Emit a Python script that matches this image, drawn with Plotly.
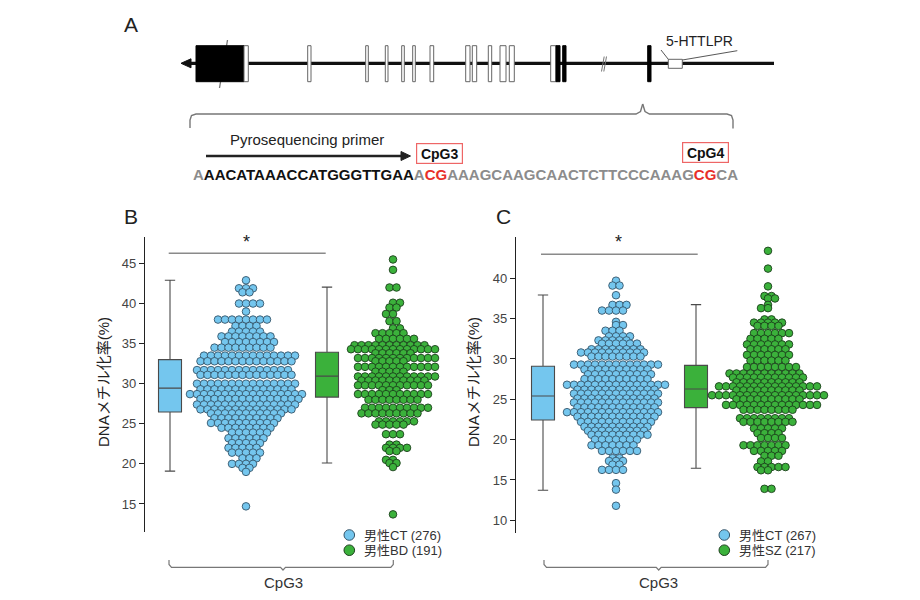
import numpy as np
import plotly.graph_objects as go

W, H = 920, 600

# ---------------- data ----------------
# Panel B : rows of the dot plot (value %, number of dots in the row)
b_ct_rows = [42.9, 41.9, 41.4, 40.0, 39.0, 38.0, 37.2, 36.5, 35.9, 35.2, 34.5, 33.5, 32.8,
             31.7, 31.1, 30.0, 29.3, 28.7, 28.1, 27.4, 26.8, 26.3, 25.7, 25.1, 24.5, 23.9,
             23.2, 22.6, 22.0, 21.4, 20.7, 20.0, 19.5, 19.0, 14.7]
b_ct_counts = [1, 3, 2, 4, 1, 8, 4, 5, 8, 8, 9, 14, 14,
               14, 14, 15, 14, 17, 15, 15, 14, 11, 10, 10, 8, 6,
               6, 5, 5, 5, 3, 4, 2, 1, 1]
b_bd_rows = [45.5, 44.2, 42.0, 40.1, 39.5, 38.7, 37.8, 36.9, 36.3, 35.6, 34.8, 34.3, 33.8,
             33.2, 32.8, 32.1, 31.5, 30.9, 30.4, 29.8, 29.2, 28.7, 28.0, 27.0, 26.3, 25.3,
             24.9, 23.7, 22.4, 22.0, 21.6, 20.5, 20.1, 19.6, 13.7]
b_bd_counts = [1, 1, 2, 2, 2, 2, 2, 2, 5, 6, 11, 13, 6,
               12, 5, 12, 5, 12, 10, 11, 3, 11, 8, 10, 9, 6,
               5, 3, 2, 4, 2, 2, 2, 1, 1]
# Panel C
c_ct_rows = [39.7, 39.1, 37.9, 36.7, 36.0, 34.6, 34.2, 33.5, 32.8, 32.3, 31.9, 31.2, 30.8,
             30.3, 29.3, 28.7, 28.1, 27.5, 26.8, 26.2, 25.7, 25.1, 24.6, 24.0, 23.4, 22.85,
             22.2, 21.6, 21.1, 20.6, 20.0, 19.3, 18.6, 17.7, 17.35, 16.9, 16.25, 14.6, 13.8, 11.8]
c_ct_counts = [1, 2, 1, 3, 4, 1, 2, 3, 4, 5, 6, 8, 10,
               8, 13, 10, 10, 10, 15, 12, 13, 12, 13, 12, 14, 12,
               11, 10, 9, 9, 7, 7, 6, 2, 3, 2, 4, 1, 1, 1]
c_sz_rows = [43.4, 41.2, 39.0, 37.8, 37.5, 36.7, 36.3, 34.9, 34.5, 34.1, 33.2, 32.5, 31.8,
             31.2, 30.5, 29.8, 29.0, 28.2, 27.7, 27.1, 26.6, 26.1, 25.5, 25.0, 24.3, 23.7,
             22.65, 22.2, 21.4, 20.8, 20.2, 19.3, 18.6, 18.0, 17.3, 16.6, 16.2, 13.9]
c_sz_counts = [1, 1, 1, 2, 2, 1, 2, 2, 5, 4, 6, 5, 7,
               6, 7, 6, 8, 11, 11, 10, 15, 10, 17, 10, 14, 8,
               8, 8, 5, 4, 4, 7, 5, 3, 2, 5, 2, 2]

# box statistics: lower whisker, Q1, median, Q3, upper whisker
b_ct_box = [19.1, 26.47, 29.45, 33.0, 42.9]
b_bd_box = [20.1, 28.33, 30.95, 33.93, 42.05]
c_ct_box = [13.73, 22.44, 25.4, 29.1, 37.93]
c_sz_box = [16.45, 23.97, 26.28, 29.2, 36.73]

legend_b = ["男性CT (276)", "男性BD (191)"]
legend_c = ["男性CT (267)", "男性SZ (217)"]

seq_parts = [("A", "gray"), ("AACATAAACCATGGGTTGAA", "black"), ("A", "gray"), ("CG", "red"),
             ("AAAGCAAGCAACTCTTCCCAAAG", "gray"), ("CG", "red"), ("CA", "gray")]

# ---------------- styles ----------------
BLUE = "#74C6EE"
BLUE_EDGE = "#35566B"
GREEN = "#3BB13B"
GREEN_EDGE = "#1C3F1C"
TXT = "#333333"
FONT = "Liberation Sans, Arial, Noto Sans CJK JP"
JFONT = "Liberation Sans, Noto Sans CJK JP"


def px(x):
    return x / W


def py(y):
    return 1 - y / H


def swarm(center, rows, counts, d=7.0):
    """Centre each row; consecutive rows are staggered by half a dot.
    The widest row and single dots keep their natural centred position."""
    kmax = int(np.argmax(counts))
    base = (counts[kmax] + 1) % 2
    xs, ys = [], []
    flip = 1
    for k, (v, n) in enumerate(zip(rows, counts)):
        offs = (np.arange(n) - (n - 1) / 2.0) * d
        natural = (n + 1) % 2  # 0: integer grid, 1: half grid
        phase = (base + abs(k - kmax)) % 2
        if n > 1 and natural != phase:
            offs = offs + flip * d / 2.0
            flip = -flip
        xs.extend(list(center + offs))
        ys.extend([v] * n)
    return xs, ys


fig = go.Figure()

panels = [
    dict(xa="x", ya="y", rows=[(b_ct_rows, b_ct_counts, 246.0, BLUE, BLUE_EDGE),
                               (b_bd_rows, b_bd_counts, 393.0, GREEN, GREEN_EDGE)],
         boxes=[(b_ct_box, 170.0, BLUE), (b_bd_box, 327.0, GREEN)]),
    dict(xa="x2", ya="y2", rows=[(c_ct_rows, c_ct_counts, 616.0, BLUE, BLUE_EDGE),
                                 (c_sz_rows, c_sz_counts, 768.0, GREEN, GREEN_EDGE)],
         boxes=[(c_ct_box, 543.0, BLUE), (c_sz_box, 696.0, GREEN)]),
]

for p in panels:
    for stats, xc, col in p["boxes"]:
        fig.add_trace(go.Box(
            x=[xc], lowerfence=[stats[0]], q1=[stats[1]], median=[stats[2]],
            q3=[stats[3]], upperfence=[stats[4]], width=23, whiskerwidth=0.45,
            fillcolor=col, line=dict(color="#4a4a4a", width=1.1), boxpoints=False,
            xaxis=p["xa"], yaxis=p["ya"], showlegend=False, hoverinfo="skip"))
    for rows, counts, xc, col, edge in p["rows"]:
        xs, ys = swarm(xc, rows, counts)
        fig.add_trace(go.Scatter(
            x=xs, y=ys, mode="markers", xaxis=p["xa"], yaxis=p["ya"],
            marker=dict(size=7.6, color=col, line=dict(color=edge, width=0.9)),
            showlegend=False, hoverinfo="skip"))

yax_common = dict(showgrid=False, zeroline=False, showline=True, linecolor="#222",
                  linewidth=1.3, ticks="outside", ticklen=5, tickwidth=1.2, tickcolor="#222",
                  tickfont=dict(size=13, color="#444", family=FONT))
xax_common = dict(visible=False, showgrid=False, zeroline=False)

fig.update_layout(
    width=W, height=H, margin=dict(l=0, r=0, t=0, b=0),
    paper_bgcolor="white", plot_bgcolor="white",
    font=dict(family=FONT, color=TXT),
    xaxis=dict(domain=[px(145), px(450)], range=[145, 450], **xax_common),
    yaxis=dict(domain=[py(532), py(237)], range=[11.5, 48.3],
               tickvals=[15, 20, 25, 30, 35, 40, 45], **yax_common),
    xaxis2=dict(domain=[px(516), px(845)], range=[516, 845], **xax_common),
    yaxis2=dict(domain=[py(532.7), py(237.3)], range=[8.46, 45.08], anchor="x2",
                tickvals=[10, 15, 20, 25, 30, 35, 40], **yax_common),
)

shapes = []
ann = []


def line(x0, y0, x1, y1, color="#222", width=1.0):
    shapes.append(dict(type="line", xref="paper", yref="paper", x0=px(x0), y0=py(y0),
                       x1=px(x1), y1=py(y1), line=dict(color=color, width=width)))


def rect(x0, y0, x1, y1, fill="white", color="#666", width=1.0):
    shapes.append(dict(type="rect", xref="paper", yref="paper", x0=px(x0), y0=py(y0),
                       x1=px(x1), y1=py(y1), fillcolor=fill,
                       line=dict(color=color, width=width)))


def path(pts, fill=None, color="#222", width=1.0, close=False):
    d = "M " + " L ".join("%.5f,%.5f" % (px(a), py(b)) for a, b in pts)
    if close:
        d += " Z"
    s = dict(type="path", xref="paper", yref="paper", path=d,
             line=dict(color=color, width=width))
    if fill:
        s["fillcolor"] = fill
    shapes.append(s)


def text(x, y, t, size=13, color=TXT, xanchor="center", family=FONT, **kw):
    ann.append(dict(xref="paper", yref="paper", x=px(x), y=py(y), text=t, showarrow=False,
                    xanchor=xanchor, yanchor="middle", font=dict(size=size, color=color,
                                                                  family=family), **kw))


# ---------------- panel A : gene schematic ----------------
text(131, 25, "A", size=21, color="#222")
line(188, 63.3, 774, 63.3, color="#111", width=3.2)
path([(181, 63.3), (191, 58.8), (191, 67.8)], fill="#111", color="#111", close=True)
line(219.5, 88, 227.5, 40, color="#777", width=1.3)
rect(196, 45.7, 244, 81.7, fill="#000", color="#000")
for x0, x1 in [(244, 248.3), (307.7, 311), (365.7, 368.3), (385.3, 388), (401.7, 404.3),
               (412.7, 415.3), (430, 433.7), (465.7, 470), (472.3, 476.7), (488.3, 491.7),
               (500, 506), (509.3, 514.3), (550.7, 556)]:
    rect(x0, 45.7, x1, 81.7)
for x0, x1 in [(556, 560), (562.7, 566), (647.7, 651)]:
    rect(x0, 45.7, x1, 81.7, fill="#000", color="#000")
line(601.5, 71.5, 604.2, 56.5, color="#777", width=1.0)
line(603.8, 71.5, 606.5, 56.5, color="#777", width=1.0)
rect(668.3, 59.3, 682.3, 68.3)
line(661, 50, 668.3, 59.3, color="#444", width=0.9)
line(682.3, 60, 737.3, 50.7, color="#444", width=0.9)
text(699, 41, "5-HTTLPR", size=14, color="#222")

# brace
bc = "#777"
path([(190, 128), (190, 120), (191.5, 115.5), (196, 114), (636, 114), (640.5, 111.5),
      (642.7, 104)], color=bc, width=1.4)
path([(642.7, 104), (645, 111.5), (649.5, 114), (727, 114), (731.5, 115.5), (733, 120),
      (733, 128.5)], color=bc, width=1.4)

text(307, 139, "Pyrosequencing primer", size=15, color="#222")
line(206, 156, 402, 156, color="#222", width=2.6)
path([(410.5, 156), (401, 151.5), (401, 160.5)], fill="#222", color="#222", close=True)
ann.append(dict(xref="paper", yref="paper", x=px(439.2), y=py(153), text="<b>CpG3</b>",
                showarrow=False, width=43, height=17, borderpad=1, bordercolor="#EE6666",
                borderwidth=1.2, font=dict(size=14, color="#111", family=FONT),
                xanchor="center", yanchor="middle"))
ann.append(dict(xref="paper", yref="paper", x=px(705.3), y=py(152.7), text="<b>CpG4</b>",
                showarrow=False, width=43, height=17, borderpad=1, bordercolor="#EE6666",
                borderwidth=1.2, font=dict(size=14, color="#111", family=FONT),
                xanchor="center", yanchor="middle"))
cmap = {"gray": "#8C8C8C", "black": "#111111", "red": "#E8302A"}
seq_html = "".join('<span style="color:%s">%s</span>' % (cmap[c], s) for s, c in seq_parts)
text(465.5, 174, "<b>" + seq_html + "</b>", size=15)

# ---------------- panels B and C decorations ----------------
for lab, lx, sig, brk, leg, lgx, ttlx in [
        ("B", 131, (168.7, 325.7, 253.3, 246), (169, 393.3, 283), legend_b, 349.3, 103),
        ("C", 504, (541, 697.7, 254.3, 618.7), (544, 768, 658.7), legend_c, 724.3, 473)]:
    text(lx, 216, lab, size=21, color="#222")
    line(sig[0], sig[2], sig[1], sig[2], color="#8a8a8a", width=1.6)
    text(sig[3], 242, "*", size=18, color="#222")
    a, b, m = brk
    path([(a, 560), (a, 564.5), (a + 2.5, 567.3), (m - 2.5, 567.3), (m, 570), (m + 2.5, 567.3),
          (b - 2.5, 567.3), (b, 564.5), (b, 560)], color="#777", width=1.2)
    text(m, 582, "CpG3", size=15, color="#333")
    for i, (t, col, edge) in enumerate(zip(leg, [BLUE, GREEN], [BLUE_EDGE, GREEN_EDGE])):
        yy = 535 + 15.2 * i
        shapes.append(dict(type="circle", xref="paper", yref="paper",
                           x0=px(lgx - 5.3), x1=px(lgx + 5.3), y0=py(yy + 5.3), y1=py(yy - 5.3),
                           fillcolor=col, line=dict(color=edge, width=1)))
        text(lgx + 12.5, yy, t, size=13, color="#333", xanchor="left", family=JFONT)
    ann.append(dict(xref="paper", yref="paper", x=px(ttlx), y=py(382), text="DNAメチル化率(%)",
                    textangle=-90, showarrow=False, xanchor="center", yanchor="middle",
                    font=dict(size=15, color="#222", family=JFONT)))

fig.update_layout(shapes=shapes, annotations=ann)
fig.write_html("out.html")
